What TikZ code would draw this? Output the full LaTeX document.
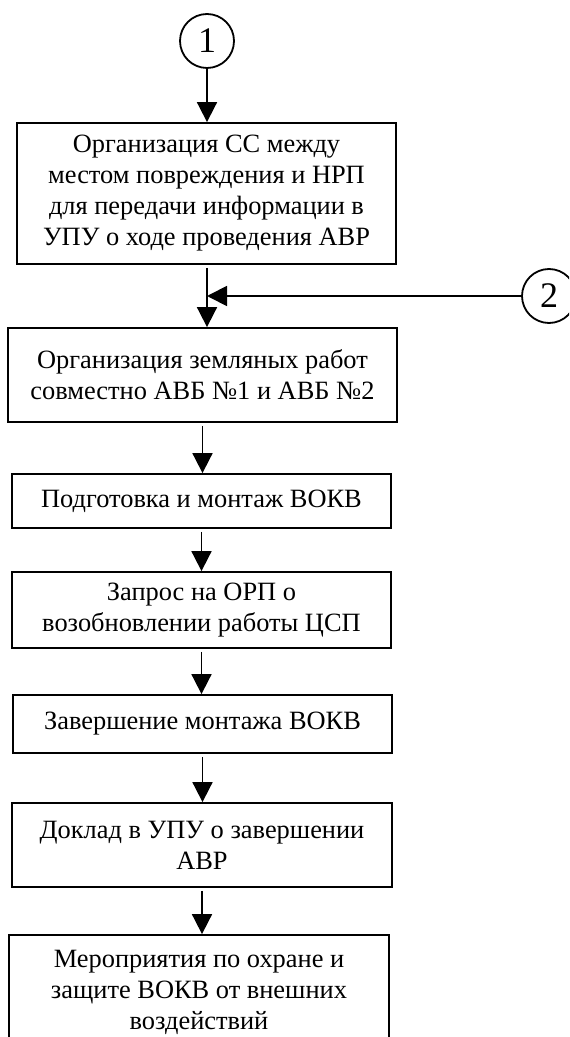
\documentclass[tikz,border=0pt]{standalone}
\usepackage{fontspec}
\setmainfont{Liberation Serif}
\usetikzlibrary{arrows.meta}
\begin{document}
\begin{tikzpicture}[x=0.5pt,y=-0.5pt,
    blok/.style={draw,line width=0.9pt,inner sep=0pt,align=center,minimum width=189.5pt,font=\fontsize{13.2}{15.5}\selectfont},
    krug/.style={draw,circle,line width=0.9pt,minimum size=27pt,inner sep=0pt,font=\fontsize{18}{18}\selectfont},
    strelka/.style={line width=0.9pt,-{Triangle[length=10pt,width=10pt]}}]
    \useasboundingbox (0,0) rectangle (569,1037);
    \clip (0,0) rectangle (569,1037);

    \node[krug] (k1) at (207,41) {1};
    \node[krug] (k2) at (549,296) {2};

    \node[blok,minimum height=70.5pt] (b1) at (206.5,193.5) {Организация СС между\\местом повреждения и НРП\\для передачи информации в\\УПУ о ходе проведения АВР};
    \node[blok,minimum width=194.5pt,minimum height=47pt] (b2) at (202.5,375) {Организация земляных работ\\совместно АВБ №1 и АВБ №2};
    \node[blok,minimum height=27pt] (b3) at (201.5,501) {Подготовка и монтаж ВОКВ};
    \node[blok,minimum height=38pt] (b4) at (201.5,610) {Запрос на ОРП о\\возобновлении работы ЦСП};
    \node[blok,minimum height=29pt] (b5) at (202.5,724) {Завершение монтажа ВОКВ};
    \node[blok,minimum width=190pt,minimum height=42pt] (b6) at (202,845) {Доклад в УПУ о завершении\\АВР};
    \node[blok,minimum width=190pt,minimum height=57pt] (b7) at (199,992) {Мероприятия по охране и\\защите ВОКВ от внешних\\воздействий};

    \draw[strelka] (k1) -- (k1 |- b1.north);
    \draw[strelka,shorten <=1.5pt] (b1.south -| k1) -- (b2.north -| k1);
    \draw[strelka] (k2) -- (k2 -| k1);
    \draw[strelka,shorten <=1.5pt] (b2.south) -- (b2.south |- b3.north);
    \draw[strelka,shorten <=1.5pt] (b3.south) -- (b3.south |- b4.north);
    \draw[strelka,shorten <=1.5pt] (b4.south) -- (b4.south |- b5.north);
    \draw[strelka,shorten <=1.5pt] (b5.south) -- (b5.south |- b6.north);
    \draw[strelka,shorten <=1.5pt] (b6.south) -- (b6.south |- b7.north);
\end{tikzpicture}
\end{document}
